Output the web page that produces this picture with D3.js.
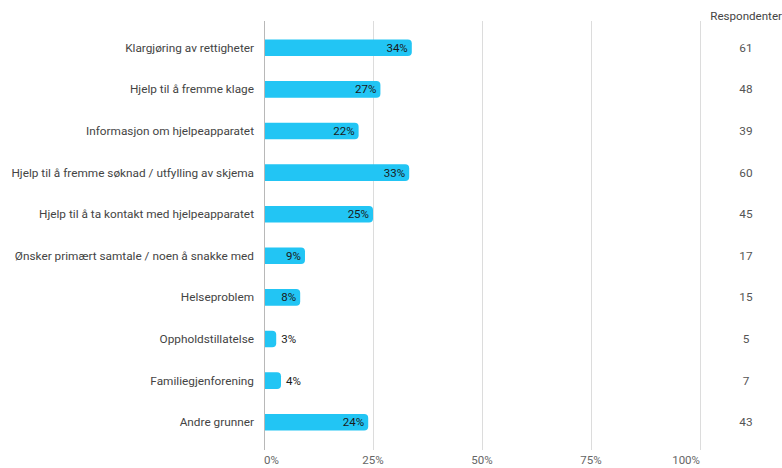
<!DOCTYPE html>
<html><head><meta charset="utf-8">
<script src="https://cdn.jsdelivr.net/npm/d3@7"></script>
<style>body{margin:0;background:#fff}svg{display:block;font-family:Roboto,sans-serif}</style>
</head><body><svg id="c" width="782" height="468"></svg>
<script>
const categories = ["Klargjøring av rettigheter","Hjelp til å fremme klage","Informasjon om hjelpeapparatet","Hjelp til å fremme søknad / utfylling av skjema","Hjelp til å ta kontakt med hjelpeapparatet","Ønsker primært samtale / noen å snakke med","Helseproblem","Oppholdstillatelse","Familiegjenforening","Andre grunner"];
const percents = [33.9, 26.7, 21.7, 33.3, 25.0, 9.4, 8.3, 2.8, 3.9, 23.9];
const respondents = [61, 48, 39, 60, 45, 17, 15, 5, 7, 43];
const ticks = [0, 25, 50, 75, 100];

const svg = d3.select("#c");
const x = d3.scaleLinear().domain([0,100]).range([264,700]);
const y = d3.scaleBand().domain(categories).range([27,443]).paddingInner(0.6).paddingOuter(0.3);

// gridlines
svg.append("g").selectAll("line").data(ticks).join("line")
  .attr("x1", d=>x(d)+0.5).attr("x2", d=>x(d)+0.5).attr("y1",21).attr("y2",450)
  .attr("stroke", d=> d===0 ? "#b8b8b8" : "#dcdcdc").attr("stroke-width",1);

// tick labels
svg.append("g").selectAll("text").data(ticks).join("text")
  .attr("x", d=>x(d)).attr("y",464)
  .attr("text-anchor", d=> d===0 ? "start" : d===100 ? "end" : "middle")
  .attr("font-size",11.5).attr("fill","#666").text(d=>d+"%");

// bars with rounded right end
const bh = y.bandwidth();
svg.append("g").selectAll("path").data(percents).join("path")
  .attr("fill","#22c5f4")
  .attr("d",(d,i)=>{
    const x0 = x(0)+1, x1 = x(d), y0 = y(categories[i]), r = Math.min(4,(x1-x0)/2);
    return `M${x0},${y0}H${x1-r}Q${x1},${y0} ${x1},${y0+r}V${y0+bh-r}Q${x1},${y0+bh} ${x1-r},${y0+bh}H${x0}Z`;
  });

// value labels
svg.append("g").selectAll("text").data(percents).join("text")
  .attr("x",(d,i)=> d<6 ? x(d)+5 : x(d)-4)
  .attr("y",(d,i)=>y(categories[i])+bh/2+4)
  .attr("text-anchor",d=> d<6 ? "start":"end")
  .attr("font-size",11.5).attr("fill","#1a1a1a")
  .text(d=>Math.round(d)+"%");

// category labels
svg.append("g").selectAll("text").data(categories).join("text")
  .attr("x",254).attr("y",d=>y(d)+bh/2+4).attr("text-anchor","end")
  .attr("font-size",11.8).attr("fill","#444").text(d=>d);

// respondents column
svg.append("text").attr("x",782).attr("y",20).attr("text-anchor","end")
  .attr("font-size",11.6).attr("fill","#444").text("Respondenter");
svg.append("g").selectAll("text").data(respondents).join("text")
  .attr("x",746).attr("y",(d,i)=>y(categories[i])+bh/2+4).attr("text-anchor","middle")
  .attr("font-size",11.8).attr("fill","#555").text(d=>d);
</script></body></html>
